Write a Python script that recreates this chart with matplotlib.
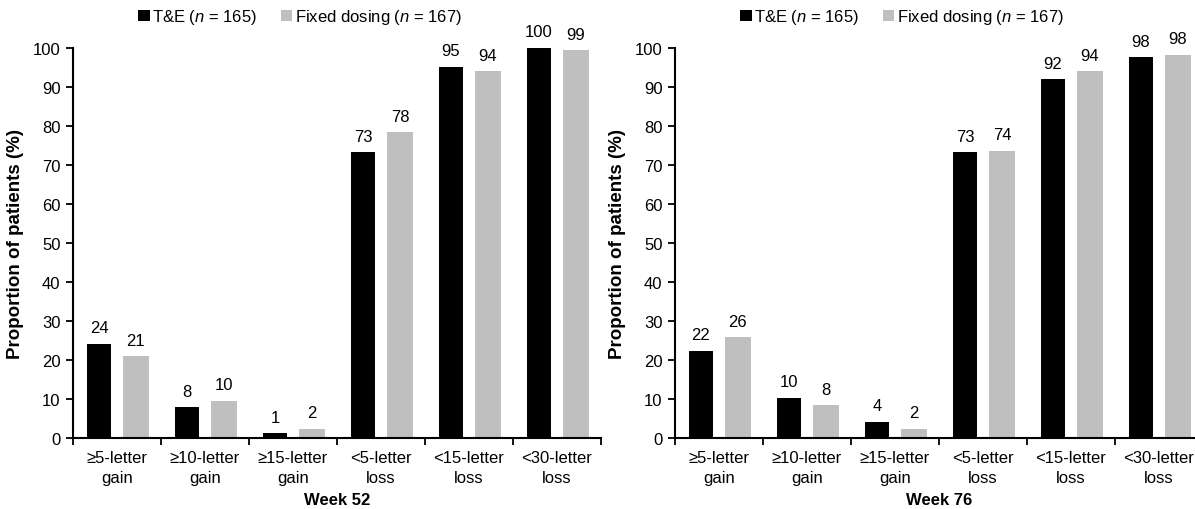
import matplotlib
matplotlib.use('Agg')
import matplotlib.pyplot as plt
from matplotlib.patches import Patch
import numpy as np

plt.rcParams['font.family'] = ['Liberation Sans', 'DejaVu Sans']
plt.rcParams['mathtext.fontset'] = 'custom'
plt.rcParams['mathtext.it'] = 'Liberation Sans:italic'
plt.rcParams['mathtext.rm'] = 'Liberation Sans'

categories = ['\u22655-letter\ngain', '\u226510-letter\ngain', '\u226515-letter\ngain',
              '<5-letter\nloss', '<15-letter\nloss', '<30-letter\nloss']
series_names = ['T&E ($n$ = 165)', 'Fixed dosing ($n$ = 167)']

te_wk52 = [24.2, 7.9, 1.2, 73.3, 95.2, 100.0]
fixed_wk52 = [21.0, 9.6, 2.4, 78.4, 94.0, 99.4]
te_wk76 = [22.3, 10.3, 4.2, 73.3, 92.0, 97.6]
fixed_wk76 = [25.8, 8.4, 2.4, 73.7, 94.0, 98.2]

panels = [('Week 52', te_wk52, fixed_wk52), ('Week 76', te_wk76, fixed_wk76)]

black = '#000000'
grey = '#bfbfbf'

fig = plt.figure(figsize=(11.95, 5.10), dpi=100)
W, H = 1195.0, 510.0
lefts = [73, 675]

for left, (week, te, fixed) in zip(lefts, panels):
    ax = fig.add_axes([left / W, (H - 439) / H, 528 / W, 390 / H])
    x = np.arange(len(categories))
    ax.bar(x - 0.205, te, width=0.28, color=black)
    ax.bar(x + 0.215, fixed, width=0.29, color=grey)
    for xi, v in zip(x, te):
        ax.text(xi - 0.205, v + 2.2, f'{round(v):d}', ha='center', va='bottom', fontsize=12)
    for xi, v in zip(x, fixed):
        ax.text(xi + 0.215, v + 2.2, f'{round(v):d}', ha='center', va='bottom', fontsize=12)

    ax.set_xlim(-0.5, 5.5)
    ax.set_ylim(0, 100)
    ax.set_yticks(range(0, 101, 10))
    ax.set_xticks(x)
    ax.set_xticklabels(categories, fontsize=12, linespacing=1.35)
    ax.set_xticks(np.arange(-0.5, 6, 1), minor=True)
    ax.tick_params(axis='x', which='major', length=0, pad=9)
    ax.tick_params(axis='x', which='minor', length=5, width=1.3, direction='out')
    ax.tick_params(axis='y', length=5, width=1.3, labelsize=12, pad=4)
    for s in ['top', 'right']:
        ax.spines[s].set_visible(False)
    for s in ['left', 'bottom']:
        ax.spines[s].set_linewidth(1.5)
    ax.set_ylabel('Proportion of patients (%)', fontsize=13.5, fontweight='bold', labelpad=6)
    ax.set_xlabel(week, fontsize=12, fontweight='bold', labelpad=5)

    handles = [Patch(facecolor=black), Patch(facecolor=grey)]
    ax.legend(handles, series_names, loc='center', bbox_to_anchor=(0.43, 1.08),
              ncol=2, frameon=False, fontsize=12, handlelength=0.7, handleheight=0.7,
              handletextpad=0.15, columnspacing=1.4)

fig.savefig('out.png', dpi=100)
